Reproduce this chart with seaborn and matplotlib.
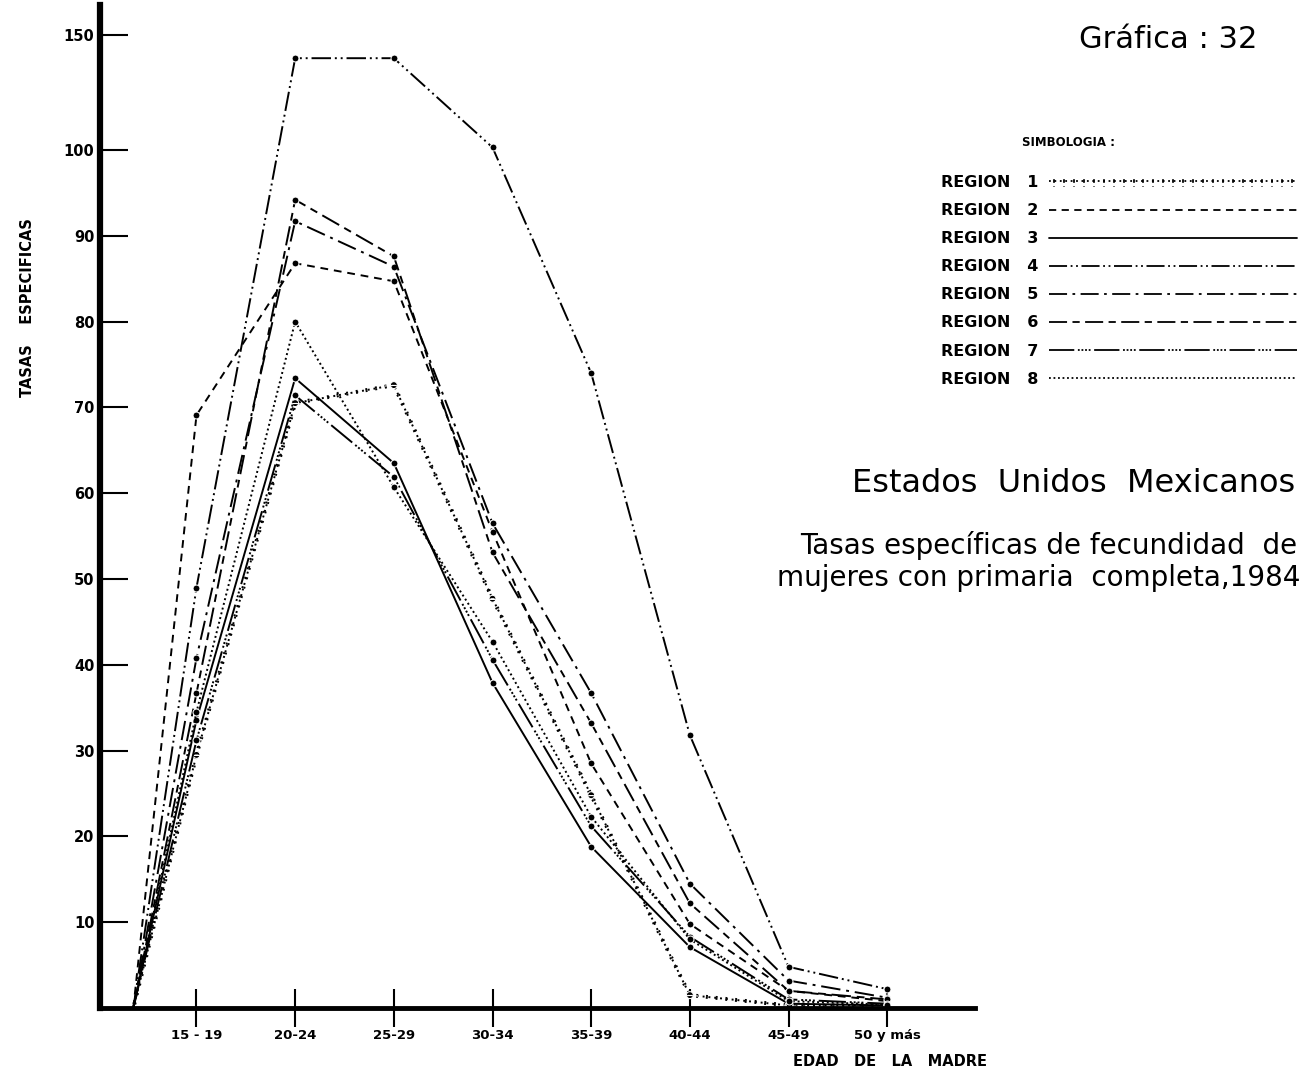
import numpy as np
import pandas as pd
import matplotlib.pyplot as plt
import matplotlib.patheffects as pe
from matplotlib.lines import Line2D
import seaborn as sns

# age groups (x categories); the first point is the common origin left of 15-19
edades = ["15 - 19", "20-24", "25-29", "30-34", "35-39", "40-44", "45-49", "50 y más"]
pos = [-0.64, 0, 1, 2, 3, 4, 5, 6, 7]

region_1 = [0, 29.5, 70.5, 72.6, 47.7, 24.8, 1.5, 0.3, 0.3]
region_2 = [0, 69.1, 86.8, 84.7, 55.5, 28.5, 9.8, 2.0, 0.8]
region_3 = [0, 33.6, 73.4, 63.5, 37.9, 18.8, 7.1, 0.5, 0.3]
region_4 = [0, 49.0, 110.7, 110.7, 100.3, 74.0, 31.8, 4.8, 2.2]
region_5 = [0, 40.8, 91.7, 86.4, 56.5, 36.7, 14.5, 3.2, 1.2]
region_6 = [0, 36.7, 94.2, 87.6, 53.1, 33.2, 12.2, 2.0, 1.0]
region_7 = [0, 31.2, 71.4, 61.9, 40.6, 21.2, 8.3, 1.0, 0.5]
region_8 = [0, 34.5, 80.0, 60.7, 42.7, 22.3, 8.0, 0.8, 0.4]

yticks = [10, 20, 30, 40, 50, 60, 70, 80, 90, 100, 113.4]
ylabels = ["10", "20", "30", "40", "50", "60", "70", "80", "90", "100", "150"]

series = {
    "REGION   1": (region_1, (0, (1, 2))),
    "REGION   2": (region_2, (0, (4, 3))),
    "REGION   3": (region_3, "-"),
    "REGION   4": (region_4, (0, (10, 2, 1, 2, 1, 2))),
    "REGION   5": (region_5, (0, (10, 3, 1.5, 3))),
    "REGION   6": (region_6, (0, (10, 3, 4, 3))),
    "REGION   7": (region_7, (0, (14, 2, 1, 1, 1, 1, 1, 1, 1, 2))),
    "REGION   8": (region_8, (0, (1, 1.5))),
}

sns.set_style("white")
plt.rcParams["font.family"] = ["DejaVu Sans"]
plt.rcParams["text.color"] = "black"
plt.rcParams["xtick.color"] = "black"
plt.rcParams["ytick.color"] = "black"

W, H = 1304, 1078
fig = plt.figure(figsize=(W / 100, H / 100), dpi=100)
ax = fig.add_axes([100 / W, 70 / H, 875 / W, 1003 / H])

cross = [pe.Normal(),
         pe.TickedStroke(angle=90, spacing=7, length=0.55),
         pe.TickedStroke(angle=-90, spacing=7, length=0.55)]

handles = []
for name, (vals, ls) in series.items():
    df = pd.DataFrame({"edad": pos, "tasa": vals})
    sns.lineplot(data=df, x="edad", y="tasa", ax=ax, color="black",
                 linestyle=ls, linewidth=1.4, marker="o", markersize=5,
                 markevery=list(range(1, len(pos))), clip_on=False)
    line = ax.lines[-1]
    if name.endswith(" 1"):
        line.set_path_effects(cross)
    h = Line2D([], [], color="black", linestyle=ls, linewidth=1.3)
    if name.endswith(" 1"):
        h.set_path_effects(cross)
    handles.append(h)

ax.set_xlim(-0.978, 7.89)
ax.set_ylim(0, 116.9)
ax.set_xticks(range(8))
ax.set_xticklabels(edades, fontsize=9.5, fontweight="bold")
ax.set_yticks(yticks)
ax.set_yticklabels(ylabels, fontsize=10.5, fontweight="bold")
ax.tick_params(axis="y", left=True, direction="in", length=20, width=1.5, pad=4)
ax.tick_params(axis="x", bottom=True, direction="inout", length=28, width=1.5, pad=1)
ax.set_xlabel("")
ax.set_ylabel("")
for s in ["top", "right"]:
    ax.spines[s].set_visible(False)
ax.spines["left"].set_linewidth(4.5)
ax.spines["bottom"].set_linewidth(3.5)
ax.spines["left"].set_color("black")
ax.spines["bottom"].set_color("black")
ax.grid(False)

# texts
def ftext(x, y, s, **kw):
    fig.text(x / W, 1 - y / H, s, **kw)

ftext(1168, 40, "Gráfica : 32", fontsize=22, ha="center", va="center")
ftext(1068, 143, "SIMBOLOGIA :", fontsize=8.5, fontweight="bold", ha="center", va="center")
ftext(1295, 483, "Estados  Unidos  Mexicanos", fontsize=23, ha="right", va="center")
ftext(1297, 545, "Tasas específicas de fecundidad  de", fontsize=20, ha="right", va="center")
ftext(1300, 578, "mujeres con primaria  completa,1984", fontsize=20, ha="right", va="center")
ftext(28, 308, "TASAS    ESPECIFICAS", fontsize=10.5, fontweight="bold", rotation=90,
      ha="center", va="center")
ftext(890, 1062, "EDAD   DE   LA   MADRE", fontsize=10.5, fontweight="bold", ha="center", va="center")

fig.legend(handles, list(series.keys()), loc="upper right",
           bbox_to_anchor=(1297 / W, 1 - 175 / H), markerfirst=False, frameon=False,
           handlelength=15.5, handletextpad=0.7, labelspacing=0.82, borderpad=0,
           borderaxespad=0, prop={"size": 11.5, "weight": "bold"})

fig.savefig("out.png", dpi=100)
